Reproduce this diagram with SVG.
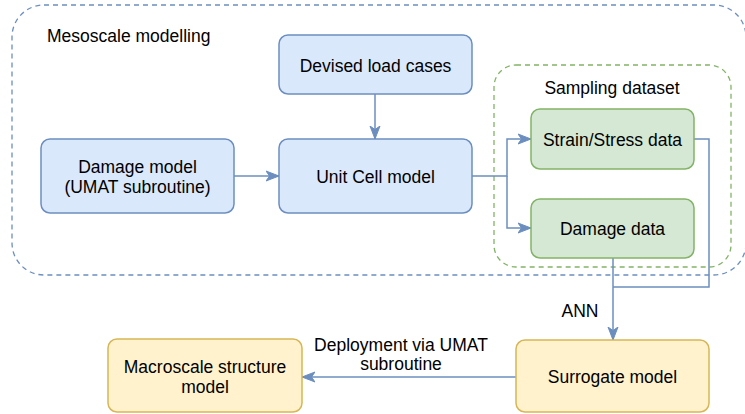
<svg xmlns="http://www.w3.org/2000/svg" width="745" height="414" viewBox="0 0 745 414">
<defs>
<style>
text{font-family:"Liberation Sans",Arial,Helvetica,sans-serif;font-size:17.5px;fill:#000}
.c{text-anchor:middle}
.blue{fill:#dae8fc;stroke:#6c8ebf;stroke-width:1.5}
.green{fill:#d5e8d4;stroke:#82b366;stroke-width:1.5}
.yellow{fill:#fff2cc;stroke:#d6b656;stroke-width:1.5}
.edge{fill:none;stroke:#6c8ebf;stroke-width:1.5}
</style>
<marker id="arr" markerUnits="userSpaceOnUse" markerWidth="14" markerHeight="12" viewBox="0 0 14 12" refX="13" refY="6" orient="auto">
<path d="M0,1 L13,6 L0,11 L3.5,6 Z" fill="#6c8ebf" stroke="#6c8ebf" stroke-width="1"/>
</marker>
</defs>
<g id="mesoscale-group">
<rect x="12" y="5" width="734" height="270" rx="32" ry="32" fill="none" stroke="#6c8ebf" stroke-width="1.3" stroke-dasharray="5,4"/>
<text x="47" y="42">Mesoscale modelling</text>
</g>
<g id="sampling-group">
<rect x="494" y="65" width="237" height="202" rx="22" ry="22" fill="none" stroke="#82b366" stroke-width="1.3" stroke-dasharray="5,4"/>
<text class="c" x="612" y="94">Sampling dataset</text>
</g>
<g id="connectors">
<path class="edge" d="M375,94 V139" marker-end="url(#arr)"/>
<path class="edge" d="M234,176 H279" marker-end="url(#arr)"/>
<path class="edge" d="M472,176 H507 V139 H531" marker-end="url(#arr)"/>
<path class="edge" d="M507,176 V228 H531" marker-end="url(#arr)"/>
<path class="edge" d="M694,139 H709 V287 H613"/>
<path class="edge" d="M613,258 V340" marker-end="url(#arr)"/>
<path class="edge" d="M516,377 H302" marker-end="url(#arr)"/>
<text class="c" x="580" y="317">ANN</text>
<text class="c" x="401" y="351">Deployment via UMAT</text>
<text class="c" x="401" y="370">subroutine</text>
</g>
<g id="devised">
<rect class="blue" x="279" y="35" width="193" height="59" rx="9"/>
<text class="c" x="375.5" y="72">Devised load cases</text>
</g>
<g id="damage-model">
<rect class="blue" x="41" y="139" width="193" height="74" rx="9"/>
<text class="c" x="137.5" y="173">Damage model</text>
<text class="c" x="137.5" y="193">(UMAT subroutine)</text>
</g>
<g id="unit-cell">
<rect class="blue" x="279" y="139" width="193" height="74" rx="9"/>
<text class="c" x="375.5" y="183">Unit Cell model</text>
</g>
<g id="strain-stress">
<rect class="green" x="531" y="109" width="163" height="60" rx="9"/>
<text class="c" x="612.5" y="146">Strain/Stress data</text>
</g>
<g id="damage-data">
<rect class="green" x="531" y="199" width="163" height="59" rx="9"/>
<text class="c" x="612.5" y="235">Damage data</text>
</g>
<g id="surrogate">
<rect class="yellow" x="516" y="340" width="193" height="72" rx="9"/>
<text class="c" x="612.5" y="383">Surrogate model</text>
</g>
<g id="macroscale">
<rect class="yellow" x="108" y="339" width="194" height="73" rx="9"/>
<text class="c" x="205" y="373">Macroscale structure</text>
<text class="c" x="205" y="393">model</text>
</g>
</svg>
